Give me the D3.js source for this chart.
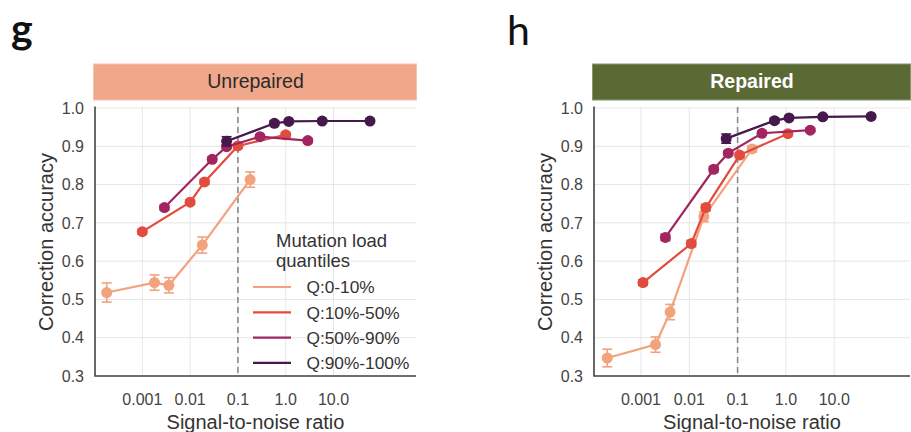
<!DOCTYPE html>
<meta charset="utf-8">
<body style="margin:0; background:#fff;">
<div id="chart"></div>
<style>
body { font-family: 'Liberation Sans', Arial, sans-serif; }
.grid line { stroke: #e6e6e6; stroke-width: 1; }
.tick-label { fill: #444; font-size: 16px; }
.axis-label { fill: #333; font-size: 20px; }
</style>
<script src="https://d3js.org/d3.v7.min.js"></script>
<script>
const width = 911, height = 432;

// series names and colours (seaborn rocket_r)
const quantiles = ["Q:0-10%", "Q:10%-50%", "Q:50%-90%", "Q:90%-100%"];
const colors = ["#f2a27d", "#e14c3e", "#a2255f", "#46194c"];

const xTicks = [0.001, 0.01, 0.1, 1, 10];
const xTickLabels = ["0.001", "0.01", "0.1", "1.0", "10.0"];
const yTicks = [0.3, 0.4, 0.5, 0.6, 0.7, 0.8, 0.9, 1.0];
const threshold = 0.1;

// Unrepaired: signal-to-noise ratio, accuracy, error per quantile
const unrepSnr = [
	[0.00018, 0.0018, 0.0036, 0.018, 0.18],
	[0.001, 0.01, 0.02, 0.1, 1.0],
	[0.0029, 0.029, 0.058, 0.29, 2.9],
	[0.058, 0.58, 1.16, 5.8, 58]
];
const unrepAcc = [
	[0.518, 0.544, 0.537, 0.642, 0.813],
	[0.677, 0.754, 0.807, 0.901, 0.930],
	[0.740, 0.866, 0.899, 0.925, 0.915],
	[0.913, 0.960, 0.965, 0.966, 0.966]
];
const unrepErr = [
	[0.025, 0.020, 0.020, 0.021, 0.020],
	[0.006, 0.006, 0.006, 0.006, 0.006],
	[0.006, 0.006, 0.005, 0.005, 0.005],
	[0.012, 0.006, 0.004, 0.004, 0.004]
];

// Repaired
const repSnr = [
	[0.0002, 0.002, 0.004, 0.02, 0.2],
	[0.0011, 0.011, 0.022, 0.11, 1.1],
	[0.0032, 0.032, 0.064, 0.32, 3.2],
	[0.058, 0.58, 1.16, 5.8, 58]
];
const repAcc = [
	[0.347, 0.382, 0.467, 0.716, 0.893],
	[0.544, 0.646, 0.740, 0.877, 0.933],
	[0.662, 0.840, 0.882, 0.934, 0.942],
	[0.920, 0.967, 0.974, 0.977, 0.978]
];
const repErr = [
	[0.023, 0.020, 0.020, 0.013, 0.008],
	[0.007, 0.008, 0.008, 0.006, 0.005],
	[0.008, 0.007, 0.006, 0.005, 0.005],
	[0.012, 0.006, 0.004, 0.004, 0.004]
];

const svg = d3.select("#chart").append("svg")
	.attr("width", width)
	.attr("height", height);

const yTop = 108, yBottom = 376;

function drawPanel(p) {
	const x = d3.scaleLog().domain(p.xDomain).range([p.left, p.right]);
	const y = d3.scaleLinear().domain([0.3, 1.0]).range([yBottom, yTop]);
	const g = svg.append("g");

	// panel letter
	g.append("text")
		.attr("x", p.letterX).attr("y", p.letterY)
		.style("font-family", "Lato, sans-serif")
		.style("font-size", "41px")
		.style("font-weight", p.letterWeight)
		.attr("fill", "#111")
		.text(p.letter);

	// header strip
	g.append("rect")
		.attr("x", p.left - 1.5).attr("y", 64)
		.attr("width", p.right - p.left + 2).attr("height", 36)
		.attr("fill", p.stripColor)
		.attr("stroke", p.stripEdge).attr("stroke-width", 1);
	g.append("text")
		.attr("x", (p.left + p.right) / 2).attr("y", 88)
		.attr("text-anchor", "middle")
		.style("font-size", "19.5px")
		.style("font-weight", p.stripWeight)
		.attr("fill", p.stripText)
		.text(p.title);

	// grid
	g.append("g").attr("class", "grid")
		.selectAll("line").data(yTicks).join("line")
		.attr("x1", p.left).attr("x2", p.right)
		.attr("y1", d => y(d)).attr("y2", d => y(d));
	g.append("g").attr("class", "grid")
		.selectAll("line").data(xTicks).join("line")
		.attr("x1", d => x(d)).attr("x2", d => x(d))
		.attr("y1", yTop - 1).attr("y2", yBottom);

	// tick labels
	g.selectAll(".ytl").data(yTicks).join("text")
		.attr("class", "tick-label")
		.attr("x", p.left - 11).attr("y", d => y(d))
		.attr("dy", "0.36em")
		.attr("text-anchor", "end")
		.text(d => d.toFixed(1));
	g.selectAll(".xtl").data(xTicks).join("text")
		.attr("class", "tick-label")
		.attr("x", d => x(d)).attr("y", 405)
		.attr("text-anchor", "middle")
		.text((d, i) => xTickLabels[i]);

	// spines
	g.append("path")
		.attr("d", `M${p.left},${yTop - 1.5}V${yBottom}H${p.right}`)
		.attr("fill", "none").attr("stroke", "#444").attr("stroke-width", 1.6);

	// threshold
	g.append("line")
		.attr("x1", x(threshold)).attr("x2", x(threshold))
		.attr("y1", yTop - 1).attr("y2", yBottom)
		.attr("stroke", "#8a8a8a").attr("stroke-width", 1.6)
		.attr("stroke-dasharray", "6,4");

	// axis labels
	g.append("text").attr("class", "axis-label")
		.attr("x", (p.left + p.right) / 2).attr("y", 429)
		.attr("text-anchor", "middle")
		.text("Signal-to-noise ratio");
	g.append("text").attr("class", "axis-label")
		.attr("transform", `translate(${p.left - 42},${(yTop + yBottom) / 2}) rotate(-90)`)
		.attr("text-anchor", "middle")
		.text("Correction accuracy");

	// series
	quantiles.forEach(function(q, i) {
		const pts = p.snr[i].map((s, j) => ({ s: s, a: p.acc[i][j], e: p.err[i][j] }));
		const sg = g.append("g");
		sg.append("path")
			.datum(pts)
			.attr("fill", "none")
			.attr("stroke", colors[i])
			.attr("stroke-width", 2.2)
			.attr("d", d3.line().x(d => x(d.s)).y(d => y(d.a)));
		const eb = sg.selectAll(".eb").data(pts).join("g")
			.attr("stroke", colors[i]).attr("stroke-width", 1.6);
		eb.append("line")
			.attr("x1", d => x(d.s)).attr("x2", d => x(d.s))
			.attr("y1", d => y(d.a - d.e)).attr("y2", d => y(d.a + d.e));
		eb.append("line")
			.attr("x1", d => x(d.s) - 5).attr("x2", d => x(d.s) + 5)
			.attr("y1", d => y(d.a - d.e)).attr("y2", d => y(d.a - d.e));
		eb.append("line")
			.attr("x1", d => x(d.s) - 5).attr("x2", d => x(d.s) + 5)
			.attr("y1", d => y(d.a + d.e)).attr("y2", d => y(d.a + d.e));
		sg.selectAll("circle").data(pts).join("circle")
			.attr("cx", d => x(d.s)).attr("cy", d => y(d.a))
			.attr("r", 5.5)
			.attr("fill", colors[i]);
	});

	if (p.legend) {
		const lg = g.append("g");
		lg.append("text").attr("x", 276).attr("y", 246.5)
			.style("font-size", "18.5px").attr("fill", "#333").text("Mutation load");
		lg.append("text").attr("x", 276).attr("y", 266.5)
			.style("font-size", "18.5px").attr("fill", "#333").text("quantiles");
		quantiles.forEach(function(q, i) {
			const yy = 287 + i * 25.3;
			lg.append("line")
				.attr("x1", 253).attr("x2", 291)
				.attr("y1", yy).attr("y2", yy)
				.attr("stroke", colors[i]).attr("stroke-width", 2.2);
			lg.append("text")
				.attr("x", 306.5).attr("y", yy + 6.3)
				.style("font-size", "17.3px").attr("fill", "#333")
				.text(q);
		});
	}
}

drawPanel({
	left: 95, right: 416,
	xDomain: [Math.pow(10, -3.99), Math.pow(10, 2.726)],
	letter: "g", letterX: 11, letterY: 42.5, letterWeight: 700,
	title: "Unrepaired", stripColor: "#f1a88a", stripEdge: "#f6c3ad",
	stripText: "#2a2a2a", stripWeight: 400,
	snr: unrepSnr, acc: unrepAcc, err: unrepErr,
	legend: true
});

drawPanel({
	left: 594, right: 910,
	xDomain: [Math.pow(10, -3.973), Math.pow(10, 2.569)],
	letter: "h", letterX: 507, letterY: 45, letterWeight: 400,
	title: "Repaired", stripColor: "#5b6a35", stripEdge: "#8a9570",
	stripText: "#ffffff", stripWeight: 700,
	snr: repSnr, acc: repAcc, err: repErr,
	legend: false
});
</script>
</body>
